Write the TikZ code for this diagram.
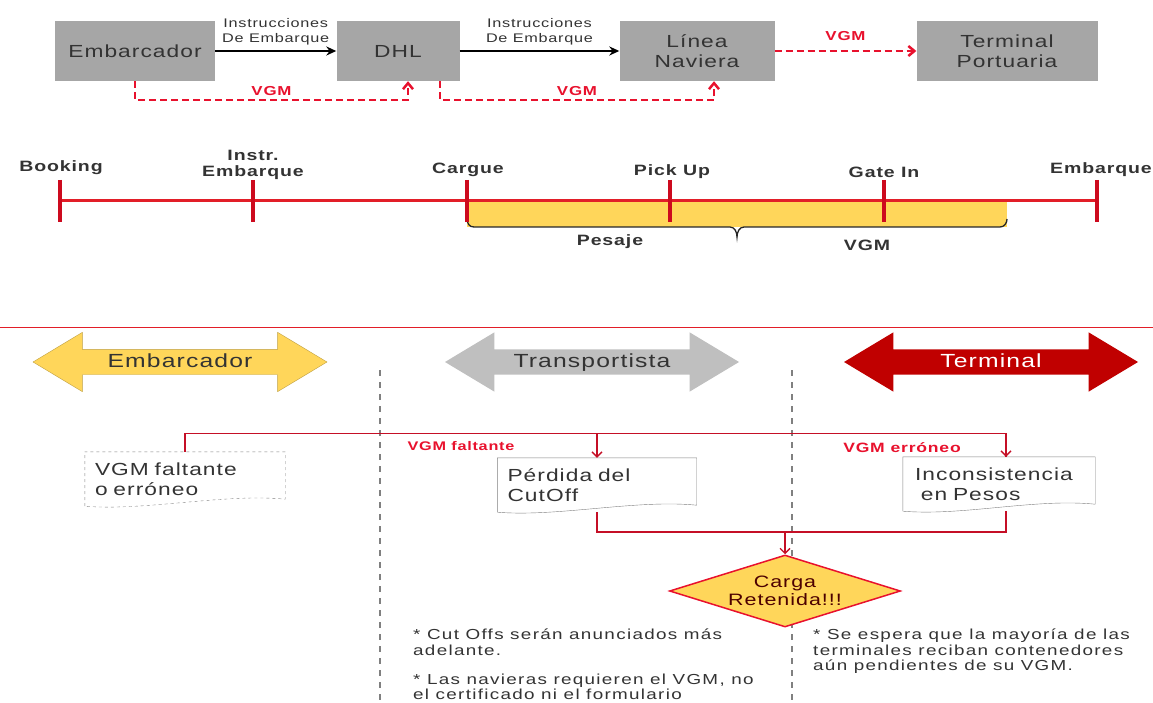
\documentclass[tikz,border=0pt]{standalone}
\usepackage{fontspec}
\setmainfont{Liberation Sans}[FakeStretch=1.3,LetterSpace=6]
\newfontfamily\notefont{Liberation Sans}[FakeStretch=1.3,LetterSpace=9]
\usetikzlibrary{arrows.meta,shapes.arrows,shapes.geometric,calc}

\definecolor{boxgray}{RGB}{166,166,166}
\definecolor{vgmred}{RGB}{232,17,45}
\definecolor{lineRed}{RGB}{226,30,40}
\definecolor{tickRed}{RGB}{205,10,30}
\definecolor{barYellow}{RGB}{255,214,90}
\definecolor{darkRed}{RGB}{192,0,0}
\definecolor{textGray}{RGB}{51,51,51}

% document outline with a wavy bottom
\newcommand{\docoutline}[2]{%
  \draw[#2] (#1.south west) -- (#1.north west) -- (#1.north east) -- ([yshift=7pt]#1.south east)
    .. controls ([xshift=-60pt,yshift=13pt]#1.south east) and ([xshift=60pt,yshift=-5pt]#1.south west) .. (#1.south west);}

\begin{document}
\begin{tikzpicture}[x=1pt,y=-1pt,>={Stealth[length=10pt,width=9pt]},
  actor/.style={fill=boxgray,minimum height=60pt,align=center,text=textGray,font=\fontsize{17.5}{20}\selectfont},
  instr/.style={align=center,text=textGray,font=\fontsize{12.5}{15}\selectfont,inner sep=1pt},
  flow/.style={line width=2.2pt,->},
  vgmflow/.style={vgmred,line width=2.5pt,dash pattern=on 7pt off 4pt,-{Straight Barb[length=6pt,width=10pt]}},
  vgmlabel/.style={text=vgmred,font=\bfseries\fontsize{13}{15}\selectfont,inner sep=2pt},
  tlabel/.style={align=center,font=\bfseries\fontsize{15}{16}\selectfont,text=textGray,inner sep=1pt},
  tick/.style={tickRed,line width=4pt},
  band/.style={double arrow,double arrow head extend=17pt,double arrow tip angle=62,minimum height=294pt,
    text height=15pt,text depth=4pt,inner ysep=3pt,font=\fontsize{19}{21}\selectfont},
  docnode/.style={minimum width=200pt,minimum height=54pt,text width=180pt,align=left,inner xsep=10pt,
    text=textGray,font=\fontsize{17.5}{20}\selectfont},
  redline/.style={vgmred!85!black,line width=1.3pt},
  redarrow/.style={redline,-{Straight Barb[length=5pt,width=10pt]}},
  divider/.style={gray,line width=2.5pt,dash pattern=on 6pt off 6pt},
  note/.style={align=left,text=textGray,font=\notefont\fontsize{14.5}{15.2}\selectfont,inner sep=0pt}]

  \useasboundingbox (0,0) rectangle (1153,703);

  % actors and instructions
  \node[actor,minimum width=160pt] (emb) at (135,51) {Embarcador};
  \node[actor,minimum width=123pt] (dhl) at (398,51) {DHL};
  \node[actor,minimum width=155pt] (lin) at (697,51) {Línea\\Naviera};
  \node[actor,minimum width=181pt] (ter) at (1007,51) {Terminal\\Portuaria};

  \draw[flow] (emb) -- (dhl) node[midway,above=4pt,instr] {Instrucciones\\De Embarque};
  \draw[flow] (dhl) -- (lin) node[midway,above=4pt,instr] {Instrucciones\\De Embarque};
  \draw[vgmflow] (lin) -- (ter) node[midway,above=7pt,vgmlabel] {VGM};
  \draw[vgmflow] (emb.south) -- ++(0,19) -| ([xshift=10pt]dhl.south) node[pos=0.25,above=1pt,vgmlabel] {VGM};
  \draw[vgmflow] ([xshift=42pt]dhl.south) -- ++(0,19) -| ([xshift=17pt]lin.south) node[pos=0.25,above=1pt,vgmlabel] {VGM};

  % timeline
  \coordinate (tbook) at (60,201);
  \coordinate (tinstr) at (253,201);
  \coordinate (tcargue) at (467,201);
  \coordinate (tpick) at (670,201);
  \coordinate (tgate) at (884,201);
  \coordinate (tship) at (1097,201);

  \fill[barYellow] (tcargue) rectangle (1007,227);
  \draw[black!85,line width=1.3pt] ([yshift=-2pt]tcargue) to[out=-90,in=180] (474,227) -- (730,227) to[out=0,in=90] (737,237)
    to[out=90,in=180] (744,227) -- (1000,227) to[out=0,in=-90] (1007,219);
  \draw[lineRed,line width=3pt] (tbook) -- (tship);
  \draw[tick] ([yshift=21pt]tbook) -- ([yshift=-21pt]tbook);
  \draw[tick] ([yshift=21pt]tinstr) -- ([yshift=-21pt]tinstr);
  \draw[tick] ([yshift=21pt]tcargue) -- ([yshift=-21pt]tcargue);
  \draw[tick] ([yshift=21pt]tpick) -- ([yshift=-21pt]tpick);
  \draw[tick] ([yshift=21pt]tgate) -- ([yshift=-21pt]tgate);
  \draw[tick] ([yshift=21pt]tship) -- ([yshift=-21pt]tship);

  \node[tlabel] (lbook) at (61,168) {Booking};
  \node[tlabel] (linstr) at (253,165) {Instr.\\Embarque};
  \node[tlabel] (lcargue) at (468,170) {Cargue};
  \node[tlabel] (lpick) at (672,172) {Pick Up};
  \node[tlabel] (lgate) at (884,172) {Gate In};
  \node[tlabel] (lship) at (1101,170) {Embarque};
  \node[tlabel] (lpesaje) at (610,242) {Pesaje};
  \node[tlabel] (lvgm) at (867,245) {VGM};

  \draw[lineRed,line width=1pt] (0,327) -- (1153,327);

  % responsibilities
  \node[band,fill=barYellow,draw=barYellow!75!black,text=textGray] (aemb) at (180,362) {Embarcador};
  \node[band,fill=black!25,text=textGray] (atra) at (592,362) {Transportista};
  \node[band,fill=darkRed,text=white] (ater) at (991,362) {Terminal};

  \draw[divider] (380,370) -- (380,703);
  \draw[divider] (792,370) -- (792,703);

  % flow
  \node[docnode] (vfe) at (185,479) {VGM faltante\\o erróneo};
  \node[docnode,minimum width=199pt,text width=179pt] (per) at (597,485) {Pérdida del\\CutOff};
  \node[docnode,minimum width=192pt,text width=168pt,inner xsep=12pt] (inc) at (999,484) {Inconsistencia\\\ en Pesos};
  \docoutline{vfe}{gray,dashed}
  \docoutline{per}{gray}
  \docoutline{inc}{gray}

  \node[diamond,draw=vgmred,line width=1.5pt,fill=barYellow,aspect=3.2,minimum width=231pt,minimum height=72pt,inner sep=0pt,
    align=center,text=black!70!red,font=\fontsize{16.5}{18}\selectfont] (dia) at (785,591) {Carga\\Retenida!!!};

  \coordinate (vtop) at ($(vfe.north)+(0,-18)$);
  \draw[redline] (vfe.north) -- (vtop) -| ([xshift=7pt]inc.north);
  \draw[redarrow] (vtop -| inc.north) ++(7,0) -- ([xshift=7pt]inc.north);
  \draw[redarrow] (vtop -| per.north) -- (per.north);
  \node[vgmlabel,font=\bfseries\fontsize{12.5}{14}\selectfont] (lfalt) at (461,446) {VGM faltante};
  \node[vgmlabel,font=\bfseries\fontsize{13.5}{14}\selectfont] (lerr) at (902,448) {VGM erróneo};

  \coordinate (join) at (dia.north |- 0,532);
  \draw[redline] (per.south) |- (join) -| ([xshift=7pt]inc.south);
  \draw[redarrow] (join) -- (dia.north);

  % notes
  \node[note,anchor=north west] (n1) at (413,629) {* Cut Offs serán anunciados más\\adelante.};
  \node[note,anchor=north west] (n2) at (413,674) {* Las navieras requieren el VGM, no\\el certificado ni el formulario};
  \node[note,anchor=north west] (n3) at (813,629) {* Se espera que la mayoría de las\\terminales reciban contenedores\\aún pendientes de su VGM.};

\end{tikzpicture}
\end{document}
